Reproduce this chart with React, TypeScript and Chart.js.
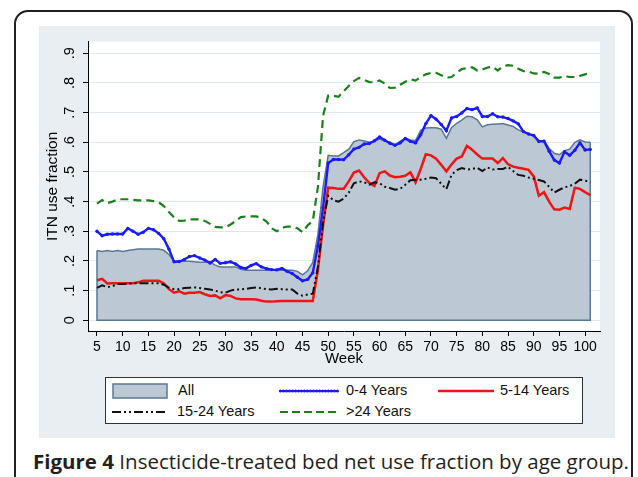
import React, { useEffect, useLayoutEffect, useRef, useState } from 'react';
import { Chart, registerables } from 'chart.js';

Chart.register(...registerables);

const WEEKS = [
  5, 6, 7, 8, 9, 10, 11, 12, 13, 14,
  15, 16, 17, 18, 19, 20, 21, 22, 23, 24,
  25, 26, 27, 28, 29, 30, 31, 32, 33, 34,
  35, 36, 37, 38, 39, 40, 41, 42, 43, 44,
  45, 46, 47, 48, 49, 50, 51, 52, 53, 54,
  55, 56, 57, 58, 59, 60, 61, 62, 63, 64,
  65, 66, 67, 68, 69, 70, 71, 72, 73, 74,
  75, 76, 77, 78, 79, 80, 81, 82, 83, 84,
  85, 86, 87, 88, 89, 90, 91, 92, 93, 94,
  95, 96, 97, 98, 99, 100, 101,
];

const ALL = [
  0.235, 0.232, 0.235, 0.232, 0.235, 0.232, 0.235, 0.238, 0.24, 0.24,
  0.24, 0.24, 0.24, 0.236, 0.222, 0.199, 0.199, 0.199, 0.199, 0.197,
  0.196, 0.196, 0.196, 0.186, 0.18, 0.18, 0.18, 0.18, 0.172, 0.169,
  0.169, 0.169, 0.169, 0.169, 0.169, 0.169, 0.169, 0.169, 0.169, 0.165,
  0.153, 0.167, 0.195, 0.29, 0.45, 0.556, 0.554, 0.554, 0.565, 0.577,
  0.602, 0.608, 0.604, 0.6, 0.603, 0.611, 0.605, 0.6, 0.591, 0.603,
  0.613, 0.608, 0.606, 0.64, 0.648, 0.649, 0.649, 0.644, 0.613, 0.649,
  0.664, 0.675, 0.688, 0.686, 0.676, 0.652, 0.659, 0.661, 0.662, 0.663,
  0.658, 0.653, 0.642, 0.635, 0.627, 0.622, 0.603, 0.605, 0.58, 0.563,
  0.558, 0.572, 0.577, 0.6, 0.608, 0.601, 0.6,
];

const AGE_0_4 = [
  0.3, 0.285, 0.29, 0.291, 0.291, 0.291, 0.31, 0.3, 0.29, 0.297,
  0.31, 0.305, 0.293, 0.275, 0.24, 0.197, 0.198, 0.205, 0.215, 0.218,
  0.21, 0.203, 0.193, 0.205, 0.192, 0.194, 0.197, 0.19, 0.178, 0.175,
  0.185, 0.191, 0.18, 0.174, 0.171, 0.17, 0.175, 0.165, 0.158, 0.145,
  0.133, 0.138, 0.16, 0.25, 0.38, 0.53, 0.542, 0.542, 0.541, 0.558,
  0.577, 0.583, 0.594, 0.596, 0.605, 0.618, 0.607, 0.597, 0.59, 0.598,
  0.613, 0.603, 0.598, 0.625, 0.663, 0.69, 0.678, 0.66, 0.639, 0.682,
  0.687, 0.699, 0.714, 0.71, 0.716, 0.687, 0.687, 0.696, 0.686, 0.685,
  0.68, 0.672, 0.662, 0.636, 0.628, 0.623, 0.603, 0.604, 0.57, 0.54,
  0.53, 0.568, 0.556, 0.573, 0.598, 0.574, 0.576,
];

const AGE_5_14 = [
  0.135, 0.14, 0.124, 0.125, 0.125, 0.125, 0.125, 0.125, 0.128, 0.133,
  0.133, 0.133, 0.133, 0.125, 0.105, 0.093, 0.098, 0.09, 0.093, 0.093,
  0.095, 0.088, 0.082, 0.084, 0.074, 0.085, 0.082, 0.074, 0.071, 0.071,
  0.071, 0.07, 0.066, 0.063, 0.063, 0.064, 0.065, 0.065, 0.065, 0.065,
  0.065, 0.065, 0.065, 0.17, 0.32, 0.447, 0.446, 0.443, 0.443, 0.468,
  0.498, 0.505, 0.482, 0.463, 0.453, 0.496, 0.502, 0.488, 0.482, 0.484,
  0.487, 0.499, 0.465, 0.51, 0.56, 0.556, 0.545, 0.524, 0.502, 0.525,
  0.545, 0.552, 0.588, 0.575, 0.559, 0.545, 0.545, 0.545, 0.53, 0.547,
  0.526, 0.518, 0.514, 0.511, 0.507, 0.485, 0.42, 0.432, 0.4, 0.374,
  0.373, 0.38, 0.375, 0.447, 0.443, 0.432, 0.422,
];

const AGE_15_24 = [
  0.109, 0.118, 0.112, 0.115, 0.122, 0.122, 0.124, 0.125, 0.125, 0.125,
  0.125, 0.125, 0.125, 0.12, 0.11, 0.105, 0.105, 0.109, 0.11, 0.111,
  0.109, 0.106, 0.104, 0.1, 0.095, 0.093, 0.1, 0.104, 0.104, 0.106,
  0.109, 0.111, 0.108, 0.105, 0.104, 0.106, 0.105, 0.104, 0.104, 0.09,
  0.083, 0.087, 0.09, 0.18, 0.33, 0.42, 0.405, 0.4, 0.41, 0.43,
  0.462, 0.468, 0.465, 0.457, 0.465, 0.462, 0.45, 0.446, 0.44, 0.443,
  0.457, 0.472, 0.474, 0.474, 0.477, 0.481, 0.479, 0.46, 0.442, 0.49,
  0.506, 0.513, 0.508, 0.51, 0.514, 0.503, 0.515, 0.508, 0.51, 0.51,
  0.517, 0.503, 0.49, 0.487, 0.481, 0.477, 0.473, 0.468, 0.45, 0.431,
  0.44, 0.448, 0.453, 0.46, 0.474, 0.471, 0.465,
];

const AGE_OVER_24 = [
  0.393, 0.405, 0.395, 0.4, 0.408, 0.408, 0.408, 0.406, 0.404, 0.404,
  0.404, 0.402, 0.398, 0.385, 0.365, 0.347, 0.335, 0.336, 0.34, 0.34,
  0.34, 0.335, 0.325, 0.315, 0.313, 0.313, 0.323, 0.335, 0.348, 0.35,
  0.35, 0.35, 0.345, 0.333, 0.31, 0.3, 0.312, 0.316, 0.316, 0.31,
  0.297, 0.32, 0.335, 0.45, 0.69, 0.757, 0.757, 0.753, 0.772, 0.79,
  0.806, 0.817, 0.81, 0.803, 0.802, 0.808, 0.798, 0.783, 0.784, 0.794,
  0.804, 0.812, 0.808, 0.82, 0.829, 0.834, 0.834, 0.826, 0.818, 0.82,
  0.834, 0.847, 0.85, 0.853, 0.842, 0.845, 0.852, 0.855, 0.842, 0.856,
  0.86, 0.858, 0.848, 0.84, 0.838, 0.832, 0.831, 0.837, 0.83, 0.818,
  0.818, 0.823, 0.82, 0.82, 0.824, 0.829, 0.834,
];

const X_TICKS = [5, 10, 15, 20, 25, 30, 35, 40, 45, 50, 55, 60, 65, 70, 75, 80, 85, 90, 95, 100];
const Y_TICKS = [0, 0.1, 0.2, 0.3, 0.4, 0.5, 0.6, 0.7, 0.8, 0.9];
const Y_TICK_LABELS = ['0', '.1', '.2', '.3', '.4', '.5', '.6', '.7', '.8', '.9'];

const SERIES_NAMES = ['All', '0-4 Years', '5-14 Years', '15-24 Years', '>24 Years'];
const X_TITLE = 'Week';
const Y_TITLE = 'ITN use fraction';
const CAPTION_BOLD = 'Figure 4';
const CAPTION_TEXT = ' Insecticide-treated bed net use fraction by age group.';

const FONT = '"Liberation Sans", Arial, Helvetica, sans-serif';
const AREA_FILL = '#bcc8d3';
const AREA_LINE = '#5a7795';
const BLUE = '#1a1aff';
const RED = '#f01414';
const BLACK = '#111111';
const GREEN = '#1a801a';
const PANEL = '#e8eef2';

const toPoints = (vals: number[]) => WEEKS.map((w, i) => ({ x: w, y: vals[i] }));

const plotBg = {
  id: 'plotBg',
  beforeDraw(chart: any) {
    const { ctx, chartArea } = chart;
    ctx.save();
    ctx.fillStyle = '#ffffff';
    ctx.fillRect(chartArea.left, chartArea.top, chartArea.right - chartArea.left, chartArea.bottom - chartArea.top);
    ctx.restore();
  },
};

const areaOutline = {
  id: 'areaOutline',
  afterDatasetDraw(chart: any, args: any) {
    if (args.index !== 0) return;
    const pts = chart.getDatasetMeta(0).data;
    if (!pts.length) return;
    const first = pts[0];
    const last = pts[pts.length - 1];
    const y0 = chart.scales.y.getPixelForValue(0);
    const ctx = chart.ctx;
    ctx.save();
    ctx.strokeStyle = AREA_LINE;
    ctx.lineWidth = 1.5;
    ctx.beginPath();
    ctx.moveTo(first.x, first.y);
    ctx.lineTo(first.x, y0);
    ctx.lineTo(last.x, y0);
    ctx.lineTo(last.x, last.y);
    ctx.stroke();
    ctx.restore();
  },
};

function ChartCanvas() {
  const ref = useRef<HTMLCanvasElement>(null);
  useEffect(() => {
    if (!ref.current) return;
    const chart = new Chart(ref.current, {
      type: 'line',
      data: {
        datasets: [
          {
            label: SERIES_NAMES[0],
            data: toPoints(ALL),
            fill: 'origin',
            backgroundColor: AREA_FILL,
            borderColor: AREA_LINE,
            borderWidth: 1.5,
            pointRadius: 0,
            order: 5,
          },
          {
            label: SERIES_NAMES[1],
            data: toPoints(AGE_0_4),
            fill: false,
            borderColor: BLUE,
            borderWidth: 2.4,
            pointRadius: 1.7,
            pointBorderWidth: 0,
            pointBackgroundColor: BLUE,
            order: 4,
          },
          {
            label: SERIES_NAMES[2],
            data: toPoints(AGE_5_14),
            fill: false,
            borderColor: RED,
            borderWidth: 2.5,
            pointRadius: 0,
            order: 3,
          },
          {
            label: SERIES_NAMES[3],
            data: toPoints(AGE_15_24),
            fill: false,
            borderColor: BLACK,
            borderWidth: 2,
            borderDash: [9, 3, 2, 3, 2, 3],
            pointRadius: 0,
            order: 2,
          },
          {
            label: SERIES_NAMES[4],
            data: toPoints(AGE_OVER_24),
            fill: false,
            borderColor: GREEN,
            borderWidth: 2.2,
            borderDash: [8, 5],
            pointRadius: 0,
            order: 1,
          },
        ],
      },
      options: {
        animation: false,
        responsive: false,
        maintainAspectRatio: false,
        events: [],
        layout: { padding: { top: 7, right: 15, bottom: 0, left: 0 } },
        plugins: { legend: { display: false }, tooltip: { enabled: false } },
        scales: {
          x: {
            type: 'linear',
            min: 3.25,
            max: 102.9,
            afterBuildTicks: (s: any) => {
              s.ticks = X_TICKS.map((v) => ({ value: v }));
            },
            afterFit: (s: any) => {
              s.height = 39;
            },
            ticks: {
              autoSkip: false,
              maxRotation: 0,
              minRotation: 0,
              padding: 3,
              color: '#000',
              font: { family: FONT, size: 14 },
              callback: (v: any) => String(v),
            },
            grid: { drawOnChartArea: false, tickLength: 5, tickColor: '#000', color: '#000' },
            border: { color: '#000', width: 1 },
            title: {
              display: true,
              text: X_TITLE,
              color: '#000',
              font: { family: FONT, size: 15 },
              padding: { top: 0, bottom: 2 },
            },
          },
          y: {
            type: 'linear',
            min: -0.036,
            max: 0.939,
            afterBuildTicks: (s: any) => {
              s.ticks = Y_TICKS.map((v) => ({ value: v }));
            },
            afterFit: (s: any) => {
              s.width = 49;
            },
            ticks: {
              minRotation: 90,
              maxRotation: 90,
              crossAlign: 'center',
              padding: 7,
              color: '#000',
              font: { family: FONT, size: 14.5 },
              callback: (_v: any, i: number) => Y_TICK_LABELS[i],
            },
            grid: { color: '#e2e9ee', tickColor: '#000', tickLength: 5, lineWidth: 1 },
            border: { color: '#000', width: 1 },
            title: {
              display: true,
              text: Y_TITLE,
              color: '#000',
              font: { family: FONT, size: 15.5 },
              padding: { top: 4, bottom: 0 },
            },
          },
        },
      } as any,
      plugins: [plotBg, areaOutline],
    });
    return () => chart.destroy();
  }, []);
  return (
    <canvas
      ref={ref}
      width={576}
      height={344}
      style={{ position: 'absolute', left: 39, top: 26, width: 576, height: 344 }}
    />
  );
}

function Symbol({ kind }: { kind: string }) {
  if (kind === 'area') {
    return (
      <svg width={56} height={16} style={{ display: 'block' }}>
        <rect x={1} y={1} width={54} height={14} fill={AREA_FILL} stroke={AREA_LINE} strokeWidth={1.5} />
      </svg>
    );
  }
  if (kind === 'blue') {
    const beads = [];
    for (let i = 0; i < 20; i++) beads.push(<circle key={i} cx={1.5 + i * 3} cy={8} r={1.5} fill={BLUE} />);
    return (
      <svg width={60} height={16} style={{ display: 'block' }}>
        <line x1={0} y1={8} x2={59} y2={8} stroke={BLUE} strokeWidth={2} />
        {beads}
      </svg>
    );
  }
  if (kind === 'red') {
    return (
      <svg width={56} height={16} style={{ display: 'block' }}>
        <line x1={0} y1={8} x2={56} y2={8} stroke={RED} strokeWidth={2.5} />
      </svg>
    );
  }
  if (kind === 'black') {
    return (
      <svg width={56} height={16} style={{ display: 'block' }}>
        <line x1={0} y1={8} x2={56} y2={8} stroke={BLACK} strokeWidth={2} strokeDasharray="9 3 2 3 2 3" />
      </svg>
    );
  }
  return (
    <svg width={58} height={16} style={{ display: 'block' }}>
      <line x1={0} y1={8} x2={58} y2={8} stroke={GREEN} strokeWidth={2.2} strokeDasharray="8 4" />
    </svg>
  );
}

function LegendItem({ kind, label, sx, tx, cy }: { kind: string; label: string; sx: number; tx: number; cy: number }) {
  return (
    <>
      <div style={{ position: 'absolute', left: sx, top: cy - 8 }}>
        <Symbol kind={kind} />
      </div>
      <div
        style={{
          position: 'absolute',
          left: tx,
          top: cy - 9,
          height: 18,
          lineHeight: '18px',
          font: `14.5px ${FONT}`,
          color: '#111',
          whiteSpace: 'nowrap',
        }}
      >
        {label}
      </div>
    </>
  );
}

export default function App() {
  const capRef = useRef<HTMLDivElement>(null);
  const [capScale, setCapScale] = useState(1);
  useLayoutEffect(() => {
    if (capRef.current) {
      const w = capRef.current.scrollWidth;
      if (w > 0) setCapScale(596 / w);
    }
  }, []);

  return (
    <div
      style={{
        position: 'fixed',
        left: 0,
        top: 0,
        width: 638,
        height: 477,
        background: '#ffffff',
        overflow: 'hidden',
      }}
    >
      <div
        style={{
          position: 'absolute',
          left: 14,
          top: 10,
          width: 619,
          height: 520,
          boxSizing: 'border-box',
          border: '2px solid #231f20',
          borderRadius: 14,
        }}
      />
      <div
        style={{
          position: 'absolute',
          left: 39,
          top: 26,
          width: 576,
          height: 412,
          background: PANEL,
        }}
      />
      <ChartCanvas />
      <div
        style={{
          position: 'absolute',
          left: 105,
          top: 377,
          width: 478,
          height: 47,
          boxSizing: 'border-box',
          border: '1px solid #333',
          background: '#ffffff',
        }}
      />
      <LegendItem kind="area" label={SERIES_NAMES[0]} sx={112} tx={178} cy={391} />
      <LegendItem kind="blue" label={SERIES_NAMES[1]} sx={279} tx={346} cy={391} />
      <LegendItem kind="red" label={SERIES_NAMES[2]} sx={438} tx={500} cy={391} />
      <LegendItem kind="black" label={SERIES_NAMES[3]} sx={112} tx={177} cy={412} />
      <LegendItem kind="green" label={SERIES_NAMES[4]} sx={280} tx={346} cy={412} />
      <div
        ref={capRef}
        style={{
          position: 'absolute',
          left: 33,
          top: 451,
          whiteSpace: 'nowrap',
          font: '19.5px "Open Sans", "Noto Sans", sans-serif',
          lineHeight: '22px',
          color: '#231f20',
          transform: `scaleX(${capScale})`,
          transformOrigin: 'left top',
        }}
      >
        <b>{CAPTION_BOLD}</b>
        {CAPTION_TEXT}
      </div>
    </div>
  );
}
